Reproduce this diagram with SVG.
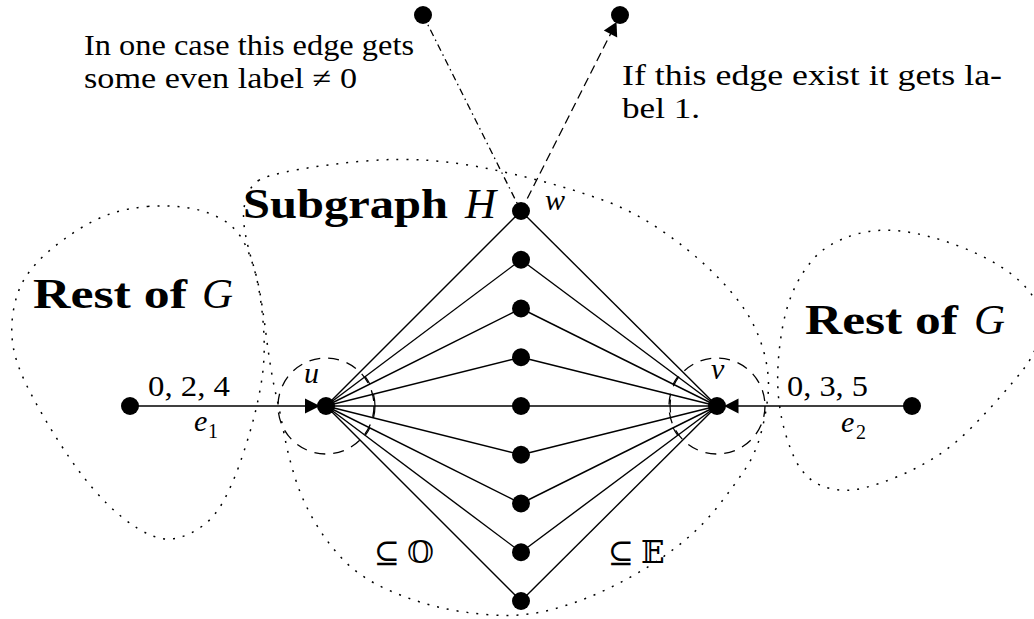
<svg xmlns="http://www.w3.org/2000/svg" width="1034" height="619" viewBox="0 0 1034 619">
<style>
.bg{fill:#fff}
.e{stroke:#000;stroke-width:1.4;fill:none}
.dot{stroke:#000;stroke-width:1.5;fill:none;stroke-dasharray:2 8}
.dsh{stroke:#000;stroke-width:1.3;fill:none;stroke-dasharray:11 8}
.dd{stroke:#000;stroke-width:1.3;fill:none;stroke-dasharray:7 4 1.5 4}
.da{stroke:#000;stroke-width:1.3;fill:none;stroke-dasharray:9 5}
.arc{stroke:#000;stroke-width:1.2;fill:none}
.n{fill:#000}
.ah{fill:#000}
.t{font-family:"Liberation Serif","DejaVu Serif",serif;font-size:29px;fill:#000}
.b{font-family:"Liberation Serif","DejaVu Serif",serif;font-size:43px;font-weight:bold;fill:#000}
.bi{font-family:"Liberation Serif","DejaVu Serif",serif;font-size:43px;font-style:italic;fill:#000}
.m{font-family:"Liberation Serif","DejaVu Serif",serif;font-size:30px;font-style:italic;fill:#000}
.s{font-family:"Liberation Serif","DejaVu Serif",serif;font-size:20px;fill:#000}
.sym{font-family:"DejaVu Serif","DejaVu Sans",serif;font-size:31px;fill:#000}
</style>
<rect class="bg" x="0" y="0" width="1034" height="619"/>
<g id="regions">
<path class="dot" d="M147.5,206.5 Q167,205 186,207.5 Q205,210 221.5,219 Q238,228 246.5,247.5 Q255,267 259,290 Q263,313 264,336.5 Q265,360 261.5,381.5 Q258,403 252.5,423 Q247,443 240,463 Q233,483 224,500 Q215,517 202.5,526 Q190,535 177.5,538 Q165,541 151.5,535.5 Q138,530 123,518 Q108,506 92.5,488 Q77,470 60,443.5 Q43,417 30,392 Q17,367 13.5,348.5 Q10,330 13.5,310 Q17,290 26,276.5 Q35,263 48.5,251.5 Q62,240 78.5,229.5 Q95,219 111.5,213.5 Q128,208 147.5,206.5 Z"/>
<path class="dot" d="M258.5,180.5 Q267,175 298.5,169.5 Q330,164 365,161 Q400,158 430,160.5 Q460,163 487.5,168.5 Q515,174 545,182 Q575,190 604,200.5 Q633,211 661.5,230.5 Q690,250 711.5,271 Q733,292 745.5,311 Q758,330 764,352.5 Q770,375 768,395 Q766,415 760.5,435 Q755,455 744,471 Q733,487 719,505 Q705,523 687.5,538 Q670,553 648.5,566.5 Q627,580 602,591.5 Q577,603 550,610 Q523,617 492.5,615 Q462,613 436,606.5 Q410,600 385,588.5 Q360,577 343.5,560 Q327,543 314.5,521.5 Q302,500 295,477.5 Q288,455 284,433.5 Q280,412 276.5,397 Q273,382 270.5,366 Q268,350 266,334 Q264,318 261,299 Q258,280 252.5,262.5 Q247,245 244.5,228.5 Q242,212 246,199 Q250,186 258.5,180.5 Z"/>
<path class="dot" d="M849,236.5 Q873,228 900,231 Q927,234 958.5,246 Q990,258 1010,273 Q1030,288 1037.5,305 Q1045,322 1039,339.5 Q1033,357 1024,368.5 Q1015,380 1001,396 Q987,412 970,429 Q953,446 935.5,457 Q918,468 899,476 Q880,484 863.5,488 Q847,492 832.5,489 Q818,486 809,478 Q800,470 794.5,458 Q789,446 785,432 Q781,418 779,401.5 Q777,385 778,366 Q779,347 782.5,327.5 Q786,308 793,291.5 Q800,275 812.5,260 Q825,245 849,236.5 Z"/>
<circle class="dsh" cx="326" cy="406" r="48"/>
<circle class="dsh" cx="717" cy="406" r="48"/>
</g>
<g id="connectors">
<line class="e" x1="326" y1="406" x2="521" y2="211"/>
<line class="e" x1="326" y1="406" x2="521" y2="259.75"/>
<line class="e" x1="326" y1="406" x2="521" y2="308.5"/>
<line class="e" x1="326" y1="406" x2="521" y2="357.25"/>
<line class="e" x1="326" y1="406" x2="521" y2="406"/>
<line class="e" x1="326" y1="406" x2="521" y2="454.75"/>
<line class="e" x1="326" y1="406" x2="521" y2="503.5"/>
<line class="e" x1="326" y1="406" x2="521" y2="552.25"/>
<line class="e" x1="326" y1="406" x2="521" y2="601"/>
<line class="e" x1="717" y1="406" x2="521" y2="211"/>
<line class="e" x1="717" y1="406" x2="521" y2="259.75"/>
<line class="e" x1="717" y1="406" x2="521" y2="308.5"/>
<line class="e" x1="717" y1="406" x2="521" y2="357.25"/>
<line class="e" x1="717" y1="406" x2="521" y2="406"/>
<line class="e" x1="717" y1="406" x2="521" y2="454.75"/>
<line class="e" x1="717" y1="406" x2="521" y2="503.5"/>
<line class="e" x1="717" y1="406" x2="521" y2="552.25"/>
<line class="e" x1="717" y1="406" x2="521" y2="601"/>
<line class="e" x1="130" y1="406" x2="306" y2="406"/>
<polygon class="ah" points="305,398.5 305,413.5 320,406"/>
<line class="e" x1="912" y1="406" x2="737" y2="406"/>
<polygon class="ah" points="738.5,398.5 738.5,413.5 724,406"/>
<line class="dd" x1="423" y1="15" x2="521" y2="211"/>
<line class="da" x1="521" y1="211" x2="611" y2="33"/>
<polygon class="ah" points="616.5,22 617.2,37.4 603.8,30.6"/>
<path class="arc" d="M365.2,376.6 A49,49 0 0 1 369.8,384.1"/>
<path class="arc" d="M373.5,394.1 A49,49 0 0 1 373.5,417.9"/>
<path class="arc" d="M369.8,427.9 A49,49 0 0 1 365.2,435.4"/>
<path class="arc" d="M677.8,376.6 A49,49 0 0 0 673.2,384.1"/>
<path class="arc" d="M670.5,399.5 A47,47 0 0 0 670.5,412.5"/>
<path class="arc" d="M673.2,427.9 A49,49 0 0 0 677.8,435.4"/>
</g>
<g id="node-u"><circle class="n" cx="326" cy="406" r="9"/><text class="m" x="304" y="383">u</text></g>
<g id="node-v"><circle class="n" cx="717" cy="406" r="9"/><text class="m" x="711" y="379">v</text></g>
<g id="node-w"><circle class="n" cx="521" cy="211" r="9"/><text class="m" x="545" y="210">w</text></g>
<g id="node-h2"><circle class="n" cx="521" cy="259.75" r="9"/></g>
<g id="node-h3"><circle class="n" cx="521" cy="308.5" r="9"/></g>
<g id="node-h4"><circle class="n" cx="521" cy="357.25" r="9"/></g>
<g id="node-h5"><circle class="n" cx="521" cy="406" r="9"/></g>
<g id="node-h6"><circle class="n" cx="521" cy="454.75" r="9"/></g>
<g id="node-h7"><circle class="n" cx="521" cy="503.5" r="9"/></g>
<g id="node-h8"><circle class="n" cx="521" cy="552.25" r="9"/></g>
<g id="node-h9"><circle class="n" cx="521" cy="601" r="9"/></g>
<g id="node-left"><circle class="n" cx="130" cy="406" r="9"/></g>
<g id="node-right"><circle class="n" cx="912" cy="406" r="9"/></g>
<g id="node-top1"><circle class="n" cx="423" cy="15" r="9"/></g>
<g id="node-top2"><circle class="n" cx="620" cy="15" r="9"/></g>
<g id="labels">
<text class="t" x="84" y="55" textLength="330" lengthAdjust="spacingAndGlyphs">In one case this edge gets</text>
<text class="t" x="84" y="88" textLength="273" lengthAdjust="spacingAndGlyphs">some even label ≠ 0</text>
<text class="t" x="622" y="85" textLength="380" lengthAdjust="spacingAndGlyphs">If this edge exist it gets la-</text>
<text class="t" x="622" y="118" textLength="78" lengthAdjust="spacingAndGlyphs">bel 1.</text>
<text class="b" x="243" y="218" textLength="205" lengthAdjust="spacingAndGlyphs">Subgraph</text>
<text class="bi" x="465" y="218">H</text>
<text class="b" x="33" y="308" textLength="154" lengthAdjust="spacingAndGlyphs">Rest of</text>
<text class="bi" x="202" y="308">G</text>
<text class="b" x="805" y="334" textLength="153" lengthAdjust="spacingAndGlyphs">Rest of</text>
<text class="bi" x="974" y="334">G</text>
<text class="t" x="148" y="396" textLength="82" lengthAdjust="spacingAndGlyphs">0, 2, 4</text>
<text class="t" x="787" y="396" textLength="81" lengthAdjust="spacingAndGlyphs">0, 3, 5</text>
<text class="m" x="194" y="431">e</text><text class="s" x="208" y="438">1</text>
<text class="m" x="841" y="432">e</text><text class="s" x="856" y="439">2</text>
<text class="sym" x="374" y="563">⊆</text><text class="sym" x="407" y="563">𝕆</text>
<text class="sym" x="608" y="563">⊆</text><text class="sym" x="641" y="563">𝔼</text>
</g>
</svg>
